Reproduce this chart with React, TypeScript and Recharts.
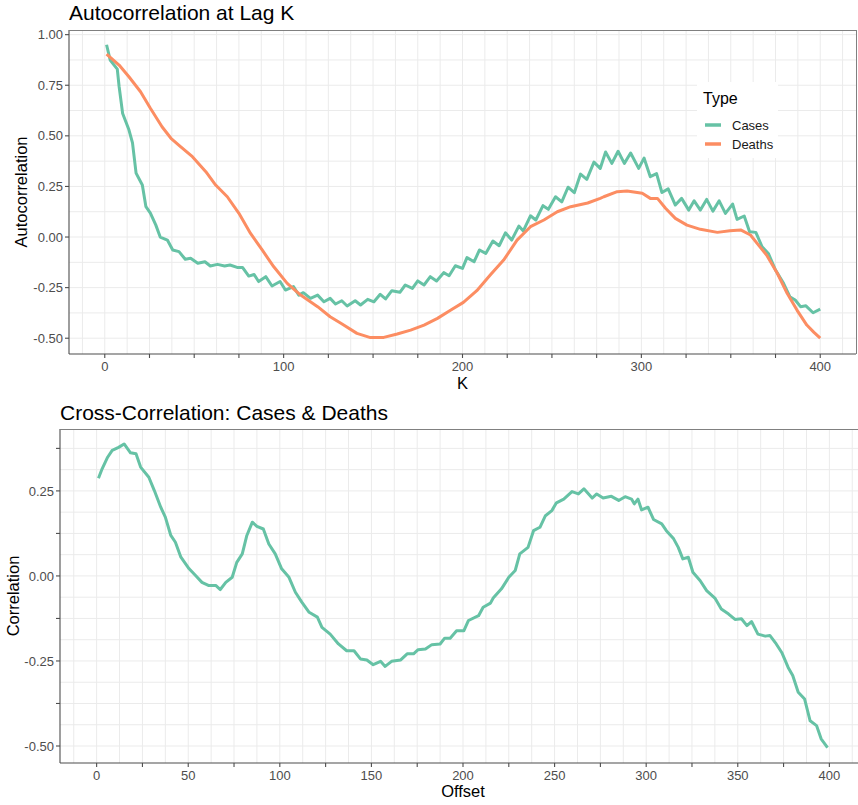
import React from 'react';
import { LineChart, Line, XAxis, YAxis, CartesianGrid } from 'recharts';

// ---------- Autocorrelation at lag K ----------
const casesLag = [1, 3, 7, 8, 10, 13.5, 15.5, 17.5, 21, 23, 25.5, 28.5, 31, 35, 38, 41.5, 45, 48, 52, 56, 59, 63, 67, 70, 74, 77, 80.5, 83.5, 86, 90, 93.5, 98, 101, 105.5, 108.5, 111, 115, 119, 122.5, 126, 129, 132.5, 135.5, 140, 143, 147, 150.5, 154, 157, 160.5, 165, 168, 172, 175, 178.5, 182, 185.5, 189.5, 192.5, 196, 200, 202.5, 206.5, 209.5, 213, 217, 220.5, 224, 227.5, 231.5, 234, 238, 241, 245, 248, 252, 255.5, 259, 262.5, 266, 269.5, 273.5, 277, 280, 283.5, 287, 290.5, 294, 298.5, 301.5, 305, 308.5, 311.5, 315, 319, 322.5, 326.5, 329.5, 333, 336.5, 340, 343.5, 347, 351, 353.5, 357.5, 360.5, 364, 367.5, 371, 375, 379.5, 383, 386, 389, 392, 396, 400];
const casesAcf = [0.95, 0.875, 0.83, 0.745, 0.61, 0.53, 0.465, 0.316, 0.257, 0.15, 0.118, 0.06, 0.0, -0.015, -0.064, -0.072, -0.11, -0.105, -0.13, -0.122, -0.143, -0.135, -0.143, -0.138, -0.15, -0.15, -0.193, -0.185, -0.22, -0.196, -0.242, -0.22, -0.262, -0.245, -0.287, -0.275, -0.303, -0.287, -0.32, -0.303, -0.331, -0.315, -0.341, -0.315, -0.336, -0.308, -0.32, -0.283, -0.306, -0.265, -0.273, -0.237, -0.254, -0.217, -0.237, -0.196, -0.217, -0.176, -0.191, -0.142, -0.155, -0.102, -0.122, -0.064, -0.081, -0.02, -0.043, 0.021, -0.015, 0.054, 0.03, 0.105, 0.084, 0.155, 0.137, 0.199, 0.174, 0.246, 0.219, 0.311, 0.285, 0.37, 0.339, 0.42, 0.364, 0.424, 0.364, 0.415, 0.339, 0.39, 0.298, 0.313, 0.22, 0.238, 0.158, 0.191, 0.133, 0.179, 0.133, 0.186, 0.128, 0.179, 0.117, 0.163, 0.087, 0.104, 0.026, 0.023, -0.048, -0.081, -0.163, -0.229, -0.295, -0.311, -0.344, -0.34, -0.374, -0.356];

const deathsLag = [1, 8, 13.5, 20, 25.5, 32, 37, 42.5, 49, 56.5, 62, 68.5, 75, 81.5, 88, 94.5, 102, 109.5, 119, 126, 132, 141, 148.5, 156, 163.5, 171, 178.5, 186, 193.5, 200.5, 208, 215.5, 223, 230.5, 238, 245.5, 253, 260.5, 270, 277, 279, 286.5, 292, 300.5, 305, 309, 313.5, 319, 325.5, 333, 342.5, 349.5, 355.5, 361, 365.5, 370, 376, 381.5, 387, 392.5, 396.5, 400];
const deathsAcf = [0.904, 0.85, 0.792, 0.718, 0.636, 0.545, 0.488, 0.446, 0.397, 0.323, 0.257, 0.199, 0.117, 0.018, -0.064, -0.147, -0.229, -0.287, -0.344, -0.394, -0.426, -0.476, -0.497, -0.496, -0.479, -0.46, -0.435, -0.402, -0.361, -0.323, -0.265, -0.188, -0.114, -0.015, 0.051, 0.084, 0.125, 0.15, 0.168, 0.191, 0.199, 0.224, 0.227, 0.216, 0.191, 0.191, 0.142, 0.092, 0.059, 0.038, 0.023, 0.031, 0.035, 0.01, -0.04, -0.089, -0.179, -0.278, -0.361, -0.435, -0.471, -0.5];

// ---------- Cross-correlation ----------
const ccfOffset = [1, 3, 6, 8.5, 12, 15, 18.5, 21.5, 24, 28.5, 31.5, 35, 37.5, 40.5, 43, 46, 50.5, 54, 57.5, 61, 65, 67.5, 70.5, 74, 76.5, 79.5, 82, 85, 87.5, 91, 94, 97.5, 101, 105, 108.5, 112, 116, 120.5, 123, 127.5, 132, 136.5, 140.5, 144, 147.5, 151, 155, 157.5, 161, 166, 169.5, 173, 175.5, 179.5, 183, 187.5, 190, 193, 196.5, 200.5, 203, 208.5, 211, 215, 216.5, 221, 225, 228.5, 231, 235.5, 238.5, 242, 245, 248.5, 251, 255, 259.5, 263, 266, 270.5, 273, 276.5, 281, 285, 288.5, 292, 293.5, 295.5, 297.5, 301, 304, 308.5, 311, 315, 317.5, 320, 323, 325.5, 329.5, 333, 337.5, 341, 345, 348.5, 352, 355, 357.5, 361, 365, 367.5, 371, 374, 377.5, 380, 383, 386.5, 389.5, 393, 395.5, 399];
const ccfValue = [0.287, 0.315, 0.349, 0.369, 0.378, 0.388, 0.362, 0.359, 0.32, 0.29, 0.251, 0.202, 0.173, 0.119, 0.099, 0.055, 0.021, 0.001, -0.019, -0.028, -0.028, -0.04, -0.019, -0.004, 0.04, 0.065, 0.119, 0.158, 0.146, 0.138, 0.094, 0.065, 0.021, -0.004, -0.048, -0.077, -0.107, -0.121, -0.151, -0.171, -0.2, -0.22, -0.22, -0.244, -0.247, -0.261, -0.251, -0.266, -0.251, -0.247, -0.229, -0.229, -0.217, -0.215, -0.202, -0.2, -0.183, -0.183, -0.161, -0.161, -0.131, -0.117, -0.092, -0.08, -0.065, -0.038, -0.004, 0.016, 0.065, 0.084, 0.133, 0.143, 0.177, 0.192, 0.215, 0.226, 0.248, 0.241, 0.256, 0.229, 0.241, 0.229, 0.234, 0.222, 0.233, 0.226, 0.212, 0.226, 0.194, 0.202, 0.166, 0.153, 0.133, 0.109, 0.084, 0.05, 0.055, 0.011, -0.014, -0.043, -0.065, -0.097, -0.112, -0.128, -0.126, -0.146, -0.134, -0.171, -0.177, -0.175, -0.2, -0.225, -0.269, -0.293, -0.342, -0.362, -0.426, -0.44, -0.479, -0.505];

// ---------- Axis ticks / gridlines ----------
const acfXTicks = [0, 25, 50, 75, 100, 125, 150, 175, 200, 225, 250, 275, 300, 325, 350, 375, 400];
const acfXLabels = [0, 100, 200, 300, 400];
const acfYTicks = [-0.5, -0.25, 0, 0.25, 0.5, 0.75, 1];
const acfGridX = [-12.5, 0, 12.5, 25, 37.5, 50, 62.5, 75, 87.5, 100, 112.5, 125, 137.5, 150, 162.5, 175, 187.5, 200, 212.5, 225, 237.5, 250, 262.5, 275, 287.5, 300, 312.5, 325, 337.5, 350, 362.5, 375, 387.5, 400, 412.5];
const acfGridY = [-0.5, -0.375, -0.25, -0.125, 0, 0.125, 0.25, 0.375, 0.5, 0.625, 0.75, 0.875, 1];

const ccfXTicks = acfXTicks;
const ccfXLabels = [0, 50, 100, 150, 200, 250, 300, 350, 400];
const ccfYTicks = [-0.5, -0.375, -0.25, -0.125, 0, 0.125, 0.25, 0.375];
const ccfYLabels = [-0.5, -0.25, 0, 0.25];
const ccfGridX = acfGridX;
const ccfGridY = [-0.5, -0.4375, -0.375, -0.3125, -0.25, -0.1875, -0.125, -0.0625, 0, 0.0625, 0.125, 0.1875, 0.25, 0.3125, 0.375];

const GREEN = '#66C2A5';
const ORANGE = '#FC8D62';
const FONT = "'Liberation Sans', Arial, sans-serif";
const TICK = { fill: '#4D4D4D', fontSize: 13, fontFamily: FONT };
const AXIS = { stroke: '#4D4D4D', strokeWidth: 1.1 };

const casesData = casesLag.map((k, i) => ({ k, v: casesAcf[i] }));
const deathsData = deathsLag.map((k, i) => ({ k, v: deathsAcf[i] }));
const ccfData = ccfOffset.map((k, i) => ({ k, v: ccfValue[i] }));

const has = (arr: number[], v: number) => arr.some((a) => Math.abs(a - v) < 1e-9);

export default function App() {
  return (
    <div style={{ position: 'absolute', left: 0, top: 0, width: 858, height: 805, overflow: 'hidden', background: '#fff', fontFamily: FONT }}>
      <div style={{ position: 'absolute', left: 0, top: 0 }}>
        <LineChart width={858} height={400} margin={{ top: 30, right: 2, bottom: 0, left: 0 }}>
          <CartesianGrid stroke="#EBEBEB" strokeWidth={1} verticalValues={acfGridX} horizontalValues={acfGridY} />
          <XAxis
            type="number"
            dataKey="k"
            domain={[-20, 420]}
            ticks={acfXTicks}
            allowDataOverflow
            height={46}
            tickSize={4}
            tickMargin={4}
            tick={TICK}
            tickFormatter={(v: number) => (has(acfXLabels, v) ? String(v) : '')}
            axisLine={AXIS}
            tickLine={AXIS}
            interval={0}
          />
          <YAxis
            type="number"
            domain={[-0.578, 1.023]}
            ticks={acfYTicks}
            allowDataOverflow
            width={69}
            tickSize={4}
            tickMargin={2}
            tick={TICK}
            tickFormatter={(v: number) => v.toFixed(2)}
            axisLine={AXIS}
            tickLine={AXIS}
            interval={0}
          />
          <Line data={casesData} dataKey="v" type="linear" stroke={GREEN} strokeWidth={3} dot={false} activeDot={false} isAnimationActive={false} strokeLinejoin="round" />
          <Line data={deathsData} dataKey="v" type="linear" stroke={ORANGE} strokeWidth={3} dot={false} activeDot={false} isAnimationActive={false} strokeLinejoin="round" />
        </LineChart>
      </div>
      <div style={{ position: 'absolute', left: 0, top: 400 }}>
        <LineChart width={870} height={405} margin={{ top: 29, right: 4, bottom: 0, left: 0 }}>
          <CartesianGrid stroke="#EBEBEB" strokeWidth={1} verticalValues={ccfGridX} horizontalValues={ccfGridY} />
          <XAxis
            type="number"
            dataKey="k"
            domain={[-20, 420]}
            ticks={ccfXTicks}
            allowDataOverflow
            height={42}
            tickSize={4}
            tickMargin={4}
            tick={TICK}
            tickFormatter={(v: number) => (has(ccfXLabels, v) ? String(v) : '')}
            axisLine={AXIS}
            tickLine={AXIS}
            interval={0}
          />
          <YAxis
            type="number"
            domain={[-0.55, 0.432]}
            ticks={ccfYTicks}
            allowDataOverflow
            width={60}
            tickSize={4}
            tickMargin={2}
            tick={TICK}
            tickFormatter={(v: number) => (has(ccfYLabels, v) ? v.toFixed(2) : '')}
            axisLine={AXIS}
            tickLine={AXIS}
            interval={0}
          />
          <Line data={ccfData} dataKey="v" type="linear" stroke={GREEN} strokeWidth={3} dot={false} activeDot={false} isAnimationActive={false} strokeLinejoin="round" />
        </LineChart>
      </div>
      <svg width={858} height={805} style={{ position: 'absolute', left: 0, top: 0, pointerEvents: 'none' }} fontFamily={FONT}>
        {/* panel borders (top & right) */}
        <line x1={69} y1={30.5} x2={856} y2={30.5} stroke="#808080" strokeWidth={1} />
        <line x1={856.5} y1={30} x2={856.5} y2={354} stroke="#808080" strokeWidth={1} />
        <line x1={60} y1={429.5} x2={858} y2={429.5} stroke="#808080" strokeWidth={1} />
        {/* titles */}
        <text x={69} y={20} fontSize={21} fill="#000">Autocorrelation at Lag K</text>
        <text x={60} y={420} fontSize={21} fill="#000">Cross-Correlation: Cases &amp; Deaths</text>
        {/* axis titles */}
        <text x={462.5} y={389} fontSize={16.5} fill="#000" textAnchor="middle">K</text>
        <text transform="translate(27,192) rotate(-90)" fontSize={16.5} fill="#000" textAnchor="middle">Autocorrelation</text>
        <text x={463} y={797} fontSize={16.5} fill="#000" textAnchor="middle">Offset</text>
        <text transform="translate(18.5,596) rotate(-90)" fontSize={16.5} fill="#000" textAnchor="middle">Correlation</text>
        {/* legend */}
        <rect x={697} y={82} width={81} height={76} fill="#fff" />
        <text x={703} y={104} fontSize={16} fill="#000">Type</text>
        <line x1={705} y1={125} x2={721} y2={125} stroke={GREEN} strokeWidth={3.5} />
        <text x={732} y={129.5} fontSize={13} fill="#1A1A1A">Cases</text>
        <line x1={705} y1={144} x2={721} y2={144} stroke={ORANGE} strokeWidth={3.5} />
        <text x={732} y={148.5} fontSize={13} fill="#1A1A1A">Deaths</text>
      </svg>
    </div>
  );
}
